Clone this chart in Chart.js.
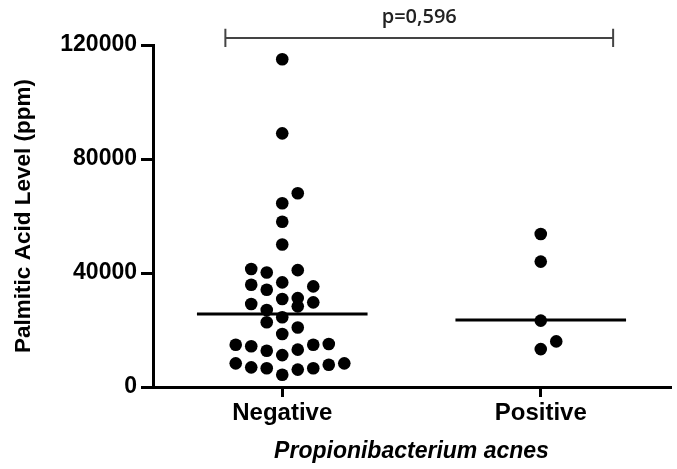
<!DOCTYPE html>
<html>
<head>
<meta charset="utf-8">
<script src="https://cdn.jsdelivr.net/npm/chart.js@4.4.1/dist/chart.umd.min.js"></script>
<style>
    body { margin: 0; background: #fff; }
    #wrap { width: 677px; height: 469px; position: relative; }
</style>
</head>
<body>
<div id="wrap"><canvas id="scatter-chart"></canvas></div>
<script>
// Groups on the x axis
const categories = ["Negative", "Positive"]

// Palmitic acid values (ppm)
const negativeValues = [115000, 89000, 68000, 64500, 58000, 50000,
    41400, 40200, 41000,
    35900, 36700, 34100, 35300,
    29100, 30900, 31200, 28300, 29700,
    27000, 24500, 22700, 20900, 18600,
    14800, 14300, 12700, 13100, 14800, 15100,
    11200,
    8300, 6900, 6600, 6100, 6600, 7800, 8300,
    4300]
// swarm column of every dot (0 = centre of the group)
const negativeSlots = [0, 0, 1, 0, 0, 0,
    -2, -1, 1,
    -2, 0, -1, 2,
    -2, 0, 1, 1, 2,
    -1, 0, -1, 1, 0,
    -3, -2, -1, 1, 2, 3,
    0,
    -3, -2, -1, 1, 2, 3, 4,
    0]

const positiveValues = [53700, 44000, 23300, 16000, 13300]
const positiveSlots = [0, 0, 0, 1, 0]

// median lines
const medians = [25600, 23500]

// significance bracket
const pValueText = "p=0,596"
const bracketFrom = 0.78
const bracketTo = 2.28
const bracketLevel = 122500
const bracketCap = 3200

const slotWidth = 0.06
const medianHalfWidth = 0.33
const fontFamily = "'Liberation Sans', Arial, sans-serif"

const toPoints = (values, slots, group) => {
    return values.map((v, i) => ({ x: group + slots[i] * slotWidth, y: v }))
}

const medianLine = (i) => {
    return {
        type: "line",
        data: [{ x: i + 1 - medianHalfWidth, y: medians[i] }, { x: i + 1 + medianHalfWidth, y: medians[i] }],
        borderColor: "#000",
        borderWidth: 3,
        pointRadius: 0
    }
}

// p value text above the bracket
const pValueLabel = {
    id: "pValueLabel",
    afterDatasetsDraw(chart) {
        const ctx = chart.ctx
        const xs = chart.scales.x
        const ys = chart.scales.y
        const cx = (xs.getPixelForValue(bracketFrom) + xs.getPixelForValue(bracketTo)) / 2
        const cy = ys.getPixelForValue(bracketLevel + bracketCap)
        ctx.save()
        ctx.fillStyle = "#222"
        ctx.font = "600 20px 'Open Sans', sans-serif"
        ctx.textAlign = "center"
        ctx.textBaseline = "bottom"
        ctx.fillText(pValueText, cx, cy - 1)
        ctx.restore()
    }
}

const scatterCtx = document.getElementById("scatter-chart")

const scatterChart = new Chart(scatterCtx, {
    type: "scatter",
    data: {
        datasets: [
            {
                data: toPoints(negativeValues, negativeSlots, 1),
                backgroundColor: "#000",
                borderWidth: 0,
                pointRadius: 6.3
            },
            {
                data: toPoints(positiveValues, positiveSlots, 2),
                backgroundColor: "#000",
                borderWidth: 0,
                pointRadius: 6.3
            },
            medianLine(0),
            medianLine(1),
            {
                type: "line",
                data: [
                    { x: bracketFrom, y: bracketLevel + bracketCap },
                    { x: bracketFrom, y: bracketLevel - bracketCap },
                    { x: bracketFrom, y: bracketLevel },
                    { x: bracketTo, y: bracketLevel },
                    { x: bracketTo, y: bracketLevel + bracketCap },
                    { x: bracketTo, y: bracketLevel - bracketCap }
                ],
                borderColor: "#444",
                borderWidth: 2,
                pointRadius: 0,
                clip: false
            }
        ]
    },
    options: {
        responsive: true,
        maintainAspectRatio: false,
        animation: false,
        layout: {
            padding: { top: 45, right: 7, left: 0, bottom: 0 }
        },
        plugins: {
            legend: { display: false },
            tooltip: { enabled: false }
        },
        scales: {
            x: {
                type: "linear",
                min: 0.5,
                max: 2.5,
                afterBuildTicks: (scale) => {
                    scale.ticks = categories.map((c, i) => ({ value: i + 1 }))
                },
                afterFit: (scale) => {
                    scale.height = 82
                },
                ticks: {
                    callback: (value) => categories[value - 1],
                    color: "#000",
                    padding: 2,
                    font: { family: fontFamily, size: 24, weight: "bold" }
                },
                grid: {
                    display: true,
                    drawOnChartArea: false,
                    drawTicks: true,
                    tickLength: 10,
                    color: "#000",
                    lineWidth: 3
                },
                border: { display: true, color: "#000", width: 3 },
                title: {
                    display: true,
                    text: "Propionibacterium acnes",
                    color: "#000",
                    padding: { top: 7 },
                    font: { family: fontFamily, size: 23, weight: "bold", style: "italic" }
                }
            },
            y: {
                min: 0,
                max: 120000,
                afterFit: (scale) => {
                    scale.width = 153
                },
                ticks: {
                    stepSize: 40000,
                    callback: (value) => String(value),
                    color: "#000",
                    padding: 4,
                    font: { family: fontFamily, size: 23, weight: "bold" }
                },
                grid: {
                    display: true,
                    drawOnChartArea: false,
                    drawTicks: true,
                    tickLength: 12,
                    color: "#000",
                    lineWidth: 3
                },
                border: { display: true, color: "#000", width: 3 },
                title: {
                    display: true,
                    text: "Palmitic Acid Level (ppm)",
                    color: "#000",
                    padding: { top: 10, bottom: 0 },
                    font: { family: fontFamily, size: 22.5, weight: "bold" }
                }
            }
        }
    },
    plugins: [pValueLabel]
})
</script>
</body>
</html>
